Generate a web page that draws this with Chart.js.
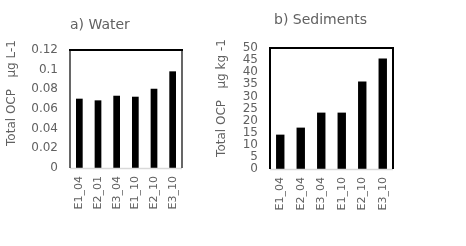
<!DOCTYPE html>
<html>
<head>
<meta charset="utf-8">
<script src="https://cdn.jsdelivr.net/npm/chart.js@4/dist/chart.umd.min.js"></script>
<style>
html,body{margin:0;padding:0;background:#fff;width:466px;height:246px;overflow:hidden;}
#wa{position:absolute;left:0;top:0;width:210px;height:246px;}
#wb{position:absolute;left:210px;top:0;width:256px;height:246px;}
</style>
</head>
<body>
<div id="wa"><canvas id="ca" width="210" height="246"></canvas></div>
<div id="wb"><canvas id="cb" width="256" height="246"></canvas></div>
<script>
// ---- data ----
const categoriesA = ["E1_04","E2_01","E3_04","E1_10","E2_10","E3_10"];
const valuesA = [0.0705,0.0688,0.0735,0.0725,0.0806,0.0983];
const yTicksA = [0,0.02,0.04,0.06,0.08,0.1,0.12];
const yTickLabelsA = ["0","0.02","0.04","0.06","0.08","0.1","0.12"];
const titleA = "a) Water";
const yTitleA = "Total OCP   \u00b5g L-1";

const categoriesB = ["E1_04","E2_04","E3_04","E1_10","E2_10","E3_10"];
const valuesB = [14.2,17.1,23.3,23.3,36.2,45.7];
const yTicksB = [0,5,10,15,20,25,30,35,40,45,50];
const yTickLabelsB = ["0","5","10","15","20","25","30","35","40","45","50"];
const titleB = "b) Sediments";
const yTitleB = "Total OCP   \u00b5g kg -1";

const FONT = "'DejaVu Sans', Verdana, sans-serif";
const GREY = "#616161";

function framePlugin(cfg){
  return {
    id:'frame',
    afterDraw(chart){
      const a = chart.chartArea, c = chart.ctx;
      c.save();
      c.strokeStyle = '#d9d9d9'; c.lineWidth = 1.5;
      c.beginPath(); c.moveTo(a.left, a.bottom+0.5); c.lineTo(a.right, a.bottom+0.5); c.stroke();
      c.strokeStyle = '#000'; c.lineWidth = cfg.side;
      c.beginPath(); c.moveTo(a.left, a.bottom); c.lineTo(a.left, a.top); c.stroke();
      c.beginPath(); c.moveTo(a.right, a.bottom); c.lineTo(a.right, a.top); c.stroke();
      c.lineWidth = 2;
      c.beginPath(); c.moveTo(a.left-1, a.top); c.lineTo(a.right+1, a.top); c.stroke();
      // title
      c.fillStyle = GREY; c.font = "14px " + FONT; c.textAlign = 'left'; c.textBaseline = 'middle';
      c.fillText(cfg.title, a.left + cfg.tdx, a.top - cfg.tdy);
      // y title
      c.font = "12px " + FONT; c.textAlign = 'center';
      c.translate(cfg.yx, cfg.yy); c.rotate(-Math.PI/2);
      c.fillText(cfg.ytitle, 0, 0);
      c.restore();
    }
  };
}

function makeChart(id, cats, vals, ticks, tickLabels, max, pad, yWidth, barPct, cfg){
  return new Chart(document.getElementById(id), {
    type:'bar',
    data:{labels:cats, datasets:[{data:vals, backgroundColor:'#000', borderWidth:0,
      barPercentage:barPct, categoryPercentage:1}]},
    options:{
      responsive:false, animation:false,
      layout:{padding:pad},
      plugins:{legend:{display:false}, title:{display:false}, tooltip:{enabled:false}},
      scales:{
        x:{
          grid:{display:false, drawTicks:false}, border:{display:false},
          ticks:{color:GREY, font:{family:FONT, size:11}, minRotation:90, maxRotation:90, padding:8, autoSkip:false},
          afterFit(s){ s.height = 50; }
        },
        y:{
          min:0, max:max,
          grid:{display:false, drawTicks:false}, border:{display:false},
          afterBuildTicks(s){ s.ticks = ticks.map(v=>({value:v})); },
          ticks:{color:GREY, font:{family:FONT, size:12}, padding:12, autoSkip:false,
            callback:(v)=>{ const i = ticks.indexOf(v); return i>=0 ? tickLabels[i] : ''; }},
          afterFit(s){ s.width = yWidth; }
        }
      }
    },
    plugins:[framePlugin(cfg)]
  });
}

makeChart('ca', categoriesA, valuesA, yTicksA, yTickLabelsA, 0.12,
  {left:0, right:28, top:50, bottom:28}, 70, 0.36,
  {title:titleA, tdx:0, tdy:25, ytitle:yTitleA, yx:12, yy:93, side:1.2});
makeChart('cb', categoriesB, valuesB, yTicksB, yTickLabelsB, 50,
  {left:0, right:73, top:48, bottom:27}, 60, 0.41,
  {title:titleB, tdx:4, tdy:28, ytitle:yTitleB, yx:12, yy:98, side:2});
</script>
</body>
</html>
